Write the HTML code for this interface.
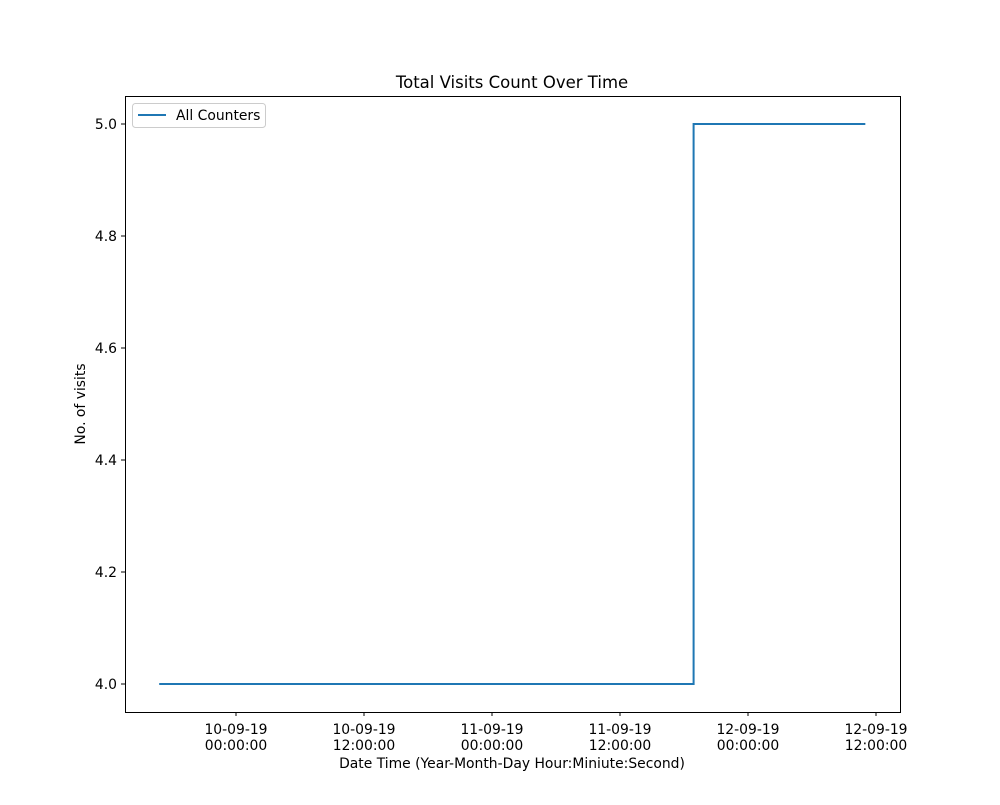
<!DOCTYPE html>
<html><head><meta charset="utf-8"><style>
body{margin:0;background:#fff}
svg text{font-family:"DejaVu Sans","Liberation Sans",sans-serif;fill:#000}
</style></head><body>
<svg id="chart" width="1000" height="800" xmlns="http://www.w3.org/2000/svg">
<rect width="1000" height="800" fill="#fff"/>
<text x="512" y="88" font-size="16.5" text-anchor="middle">Total Visits Count Over Time</text>
<g id="ticks"></g>
<path id="line" fill="none" stroke="#1f77b4" stroke-width="2"/>
<rect x="125.5" y="96.5" width="775" height="616" fill="none" stroke="#000" stroke-width="1"/>
<text x="512" y="768" font-size="13.9" text-anchor="middle">Date Time (Year-Month-Day Hour:Miniute:Second)</text>
<text transform="translate(85,404) rotate(-90)" font-size="13.9" text-anchor="middle">No. of visits</text>
<g>
<rect x="132.5" y="103.5" width="133" height="24" rx="3" fill="#fff" stroke="#ccc"/>
<line x1="138" y1="115" x2="166" y2="115" stroke="#1f77b4" stroke-width="2"/>
<text x="176" y="120" font-size="13.9">All Counters</text>
</g>
</svg>
<script>
// hours relative to 10-09-19 00:00:00
const times=[-7.2,42.9,59.0];
const values=[4,5,5];
const xTickHours=[0,12,24,36,48,60];
const xTickLabels=[["10-09-19","00:00:00"],["10-09-19","12:00:00"],["11-09-19","00:00:00"],["11-09-19","12:00:00"],["12-09-19","00:00:00"],["12-09-19","12:00:00"]];
const yTicks=[4.0,4.2,4.4,4.6,4.8,5.0];
const X=h=>236+h*128/12;
const Y=v=>684-(v-4)*560;
const NS="http://www.w3.org/2000/svg";
const g=document.getElementById('ticks');
function mk(t,a){const e=document.createElementNS(NS,t);for(const k in a)e.setAttribute(k,a[k]);g.appendChild(e);return e;}
xTickHours.forEach((h,i)=>{
 const l=mk('line',{x1:X(h),x2:X(h),y1:712,y2:716,stroke:'#000'});
 
 
 xTickLabels[i].forEach((s,j)=>{const t=mk('text',{x:X(h),y:734+j*16,'font-size':'13.9','text-anchor':'middle'});t.textContent=s;
 
 });
});
yTicks.forEach(v=>{
 const l=mk('line',{x1:121,x2:125,y1:Y(v),y2:Y(v),stroke:'#000'});
 
 
 const t=mk('text',{x:117,y:Y(v)+5,'font-size':'13.9','text-anchor':'end'});t.textContent=v.toFixed(1);
 
 
});
let d='M'+X(times[0])+','+Y(values[0]);
for(let i=1;i<times.length;i++){d+=' L'+X(times[i])+','+Y(values[i-1])+' L'+X(times[i])+','+Y(values[i]);}
document.getElementById('line').setAttribute('d',d);
</script>
</body></html>
